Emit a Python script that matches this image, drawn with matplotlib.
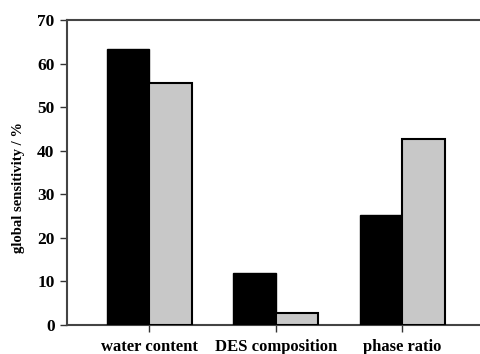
import matplotlib
matplotlib.use("Agg")
import matplotlib.pyplot as plt
import numpy as np

categories = ["water content", "DES composition", "phase ratio"]
series_black = [63.3, 11.9, 25.2]
series_gray = [55.6, 2.7, 42.6]
yticks = [0, 10, 20, 30, 40, 50, 60, 70]

plt.rcParams['font.family'] = ['Liberation Serif', 'DejaVu Serif']
plt.rcParams['font.weight'] = 'bold'

fig = plt.figure(figsize=(4.8, 3.54), dpi=100)
ax = fig.add_axes([0.1396, 0.0819, 0.87, 0.8616])

x = np.arange(len(categories))
w = 0.335
ax.bar(x - w/2, series_black, width=w, color='black', edgecolor='black', linewidth=1.0, zorder=3)
ax.bar(x + w/2, series_gray, width=w, color='#c8c8c8', edgecolor='black', linewidth=1.5, zorder=3)

ax.set_xlim(-0.65, 2.65)
ax.set_ylim(0, 70)
ax.set_yticks(yticks)
ax.set_yticklabels([str(t) for t in yticks], fontsize=12.5, fontweight='bold')
ax.set_xticks(x)
ax.set_xticklabels(categories, fontsize=12, fontweight='bold')
ax.tick_params(axis='y', direction='out', length=5, width=1, color='#333333', pad=4)
ax.tick_params(axis='x', direction='out', length=5, width=1, color='#333333', pad=5)

for s in ['left', 'bottom', 'top']:
    ax.spines[s].set_color('#444444')
    ax.spines[s].set_linewidth(1.5)
ax.spines['right'].set_visible(False)

ax.set_ylabel("global sensitivity / %", fontsize=10.5, fontweight='bold')
ax.yaxis.set_label_coords(-0.1, 0.45)

fig.savefig("out.png", dpi=100)
